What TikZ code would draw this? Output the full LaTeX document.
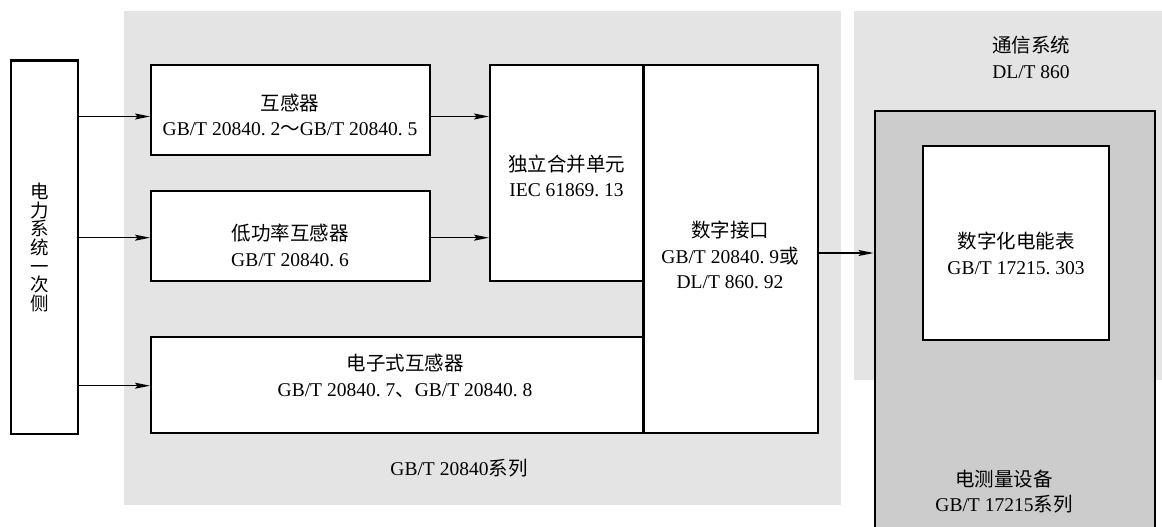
\documentclass[tikz,border=0pt]{standalone}
\usepackage{fontspec}
\setmainfont{Liberation Serif}
\newfontfamily\cjk{Noto Sans CJK SC}
\usetikzlibrary{arrows.meta}
\definecolor{bglight}{HTML}{E4E4E4}
\definecolor{bgdark}{HTML}{CCCCCC}
\newcommand{\zh}[1]{{\cjk #1}}
\begin{document}
\frenchspacing
\begin{tikzpicture}[x=1pt,y=-1pt,
  region/.style={fill=bglight,draw=none,inner sep=0pt,anchor=north west},
  box/.style={draw,line width=2.4pt,fill=white,inner sep=0pt,anchor=north west},
  lbl/.style={align=center,inner sep=0pt,font=\fontsize{19.5}{25.5}\selectfont},
  arr/.style={line width=1.3pt,-{Stealth[length=15pt,width=6pt,inset=2.5pt]}}]
\useasboundingbox (0,0) rectangle (1162,527);
% background regions
\node[region,minimum width=717,minimum height=494] (G1) at (124,11) {};
\node[region,minimum width=310,minimum height=369] (G2) at (854,11) {};
\node[box,fill=bgdark,minimum width=280,minimum height=440] (M) at (873.5,110) {};
\node[box,minimum width=186,minimum height=194] (W) at (921.5,144.5) {};
% boxes
\node[box,minimum width=67,minimum height=373.5] (L) at (9.8,59.3) {};
\node[box,minimum width=279,minimum height=90] (A) at (150,64) {};
\node[box,minimum width=279,minimum height=90] (B) at (150,190) {};
\node[box,minimum width=153.5,minimum height=216] (C) at (489,64) {};
\node[box,minimum width=174.5,minimum height=367.7] (D) at (642.4,64) {};
\node[box,minimum width=492.4,minimum height=95.7] (E) at (150,336) {};
% labels
\node[lbl,font=\fontsize{18.5}{18.7}\selectfont] (Lt) at (40,247.5) {\zh{电}\\\zh{力}\\\zh{系}\\\zh{统}\\\zh{一}\\\zh{次}\\\zh{侧}};
\node[lbl] (At) at (290,115) {\zh{互感器}\\GB/T 20840. 2\zh{～}GB/T 20840. 5};
\node[lbl] (Bt) at (290,245.5) {\zh{低功率互感器}\\GB/T 20840. 6};
\node[lbl] (Ct) at (566.5,176) {\zh{独立合并单元}\\IEC 61869. 13};
\node[lbl] (Dt) at (730,255) {\zh{数字接口}\\GB/T 20840. 9\zh{或}\\DL/T 860. 92};
\node[lbl] (Et) at (405,376) {\zh{电子式互感器}\\GB/T 20840. 7\zh{、}GB/T 20840. 8};
\node[lbl] (G1t) at (459,468) {GB/T 20840\zh{系列}};
\node[lbl] (G2t) at (1031,57.5) {\zh{通信系统}\\DL/T 860};
\node[lbl] (Wt) at (1016,253.5) {\zh{数字化电能表}\\GB/T 17215. 303};
\node[lbl] (Mt) at (1004,491.5) {\zh{电测量设备}\\GB/T 17215\zh{系列}};
% connectors
\draw[arr] (L.east |- 0,116.5) -- (A.west |- 0,116.5);
\draw[arr] (L.east |- 0,237.7) -- (B.west |- 0,237.7);
\draw[arr] (L.east |- 0,385.7) -- (E.west |- 0,385.7);
\draw[arr] (A.east |- 0,116.5) -- (C.west |- 0,116.5);
\draw[arr] (B.east |- 0,237.7) -- (C.west |- 0,237.7);
\draw[arr] (D.east |- 0,253) -- (M.west |- 0,253);
\end{tikzpicture}
\end{document}
